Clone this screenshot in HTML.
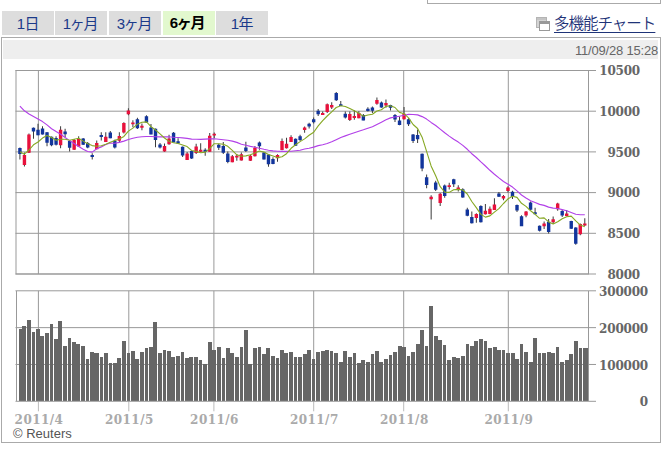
<!DOCTYPE html>
<html lang="ja"><head><meta charset="utf-8"><title>chart</title>
<style>
html,body{margin:0;padding:0;background:#fff;}
body{width:667px;height:455px;position:relative;overflow:hidden;font-family:"Liberation Sans","Noto Sans CJK JP",sans-serif;}
.topbox{position:absolute;left:427px;top:-11px;width:232px;height:13px;border:1px solid #aaa;background:#fff;}
.tabs{position:absolute;left:2px;top:11px;height:25px;}
.tab{position:absolute;top:0;width:51.6px;height:24.4px;line-height:25.4px;text-align:center;background:#ddd;color:#1b3a8a;font-size:15px;letter-spacing:-0.5px;}
.tab.t3{letter-spacing:-1.2px;text-indent:-1.6px;}
.tab.on{background:#e2f8ce;color:#000;font-weight:bold;line-height:23.4px;text-indent:-3.6px;}
.link{position:absolute;left:554px;top:14px;font-size:15.5px;line-height:20px;letter-spacing:-1px;font-weight:350;color:#1f3478;text-decoration:underline;text-underline-offset:2.5px;text-decoration-thickness:1px;white-space:nowrap;}
.box{position:absolute;left:1px;top:37px;width:658px;height:404px;border:1px solid #aaa;background:#fff;}
.bar{position:absolute;left:3px;top:40px;width:655px;height:19px;background:#eee;}
.ts{position:absolute;right:9px;top:44px;font-size:13px;letter-spacing:-0.2px;line-height:14px;color:#666;}
.cr{position:absolute;left:13px;top:426px;font-size:13px;line-height:15px;color:#555;}
svg{position:absolute;left:0;top:0;}
.ax{font-family:"DejaVu Serif","Liberation Serif",serif;font-weight:bold;font-size:12px;fill:#666;letter-spacing:-0.2px;}
.mo{font-family:"DejaVu Serif","Liberation Serif",serif;font-weight:bold;font-size:12px;fill:#aaa;letter-spacing:0.45px;}
</style></head><body>
<div class="topbox"></div>
<div class="tabs">
<div class="tab" style="left:0">1日</div>
<div class="tab t3" style="left:53px">1ヶ月</div>
<div class="tab t3" style="left:107px">3ヶ月</div>
<div class="tab on t3" style="left:161px">6ヶ月</div>
<div class="tab" style="left:214px">1年</div>
</div>
<svg style="left:536px;top:17px" width="14" height="15" viewBox="0 0 14 15"><rect x="0.5" y="0.5" width="10" height="10" fill="#d4d4d4" stroke="#b4b4b4"/><rect x="1" y="1" width="9" height="2" fill="#c4c4c4"/><rect x="3.5" y="4.5" width="10" height="9" fill="#fff" stroke="#999"/><rect x="3" y="4" width="11" height="3" fill="#999"/></svg>
<a class="link">多機能チャート</a>
<div class="box"></div>
<div class="bar"></div>
<div class="ts">11/09/28 15:28</div>
<svg width="667" height="455" viewBox="0 0 667 455" shape-rendering="crispEdges">
<rect x="16.0" y="70.5" width="572.5" height="203.5" fill="#fff" stroke="#999" stroke-width="1" shape-rendering="geometricPrecision"/>
<line x1="15.5" y1="70.50" x2="596" y2="70.50" stroke="#999" shape-rendering="geometricPrecision"/>
<line x1="15.5" y1="111.20" x2="596" y2="111.20" stroke="#999" shape-rendering="geometricPrecision"/>
<line x1="15.5" y1="151.90" x2="596" y2="151.90" stroke="#999" shape-rendering="geometricPrecision"/>
<line x1="15.5" y1="192.60" x2="596" y2="192.60" stroke="#999" shape-rendering="geometricPrecision"/>
<line x1="15.5" y1="233.30" x2="596" y2="233.30" stroke="#999" shape-rendering="geometricPrecision"/>
<line x1="15.5" y1="274.00" x2="596" y2="274.00" stroke="#999" shape-rendering="geometricPrecision"/>
<line x1="38.4" y1="70.5" x2="38.4" y2="274.0" stroke="#999" shape-rendering="geometricPrecision"/>
<line x1="38.4" y1="290.8" x2="38.4" y2="401.3" stroke="#999" shape-rendering="geometricPrecision"/>
<line x1="38.4" y1="401.3" x2="38.4" y2="411.3" stroke="#bbb" shape-rendering="geometricPrecision"/>
<line x1="128.8" y1="70.5" x2="128.8" y2="274.0" stroke="#999" shape-rendering="geometricPrecision"/>
<line x1="128.8" y1="290.8" x2="128.8" y2="401.3" stroke="#999" shape-rendering="geometricPrecision"/>
<line x1="128.8" y1="401.3" x2="128.8" y2="411.3" stroke="#bbb" shape-rendering="geometricPrecision"/>
<line x1="213.9" y1="70.5" x2="213.9" y2="274.0" stroke="#999" shape-rendering="geometricPrecision"/>
<line x1="213.9" y1="290.8" x2="213.9" y2="401.3" stroke="#999" shape-rendering="geometricPrecision"/>
<line x1="213.9" y1="401.3" x2="213.9" y2="411.3" stroke="#bbb" shape-rendering="geometricPrecision"/>
<line x1="313.7" y1="70.5" x2="313.7" y2="274.0" stroke="#999" shape-rendering="geometricPrecision"/>
<line x1="313.7" y1="290.8" x2="313.7" y2="401.3" stroke="#999" shape-rendering="geometricPrecision"/>
<line x1="313.7" y1="401.3" x2="313.7" y2="411.3" stroke="#bbb" shape-rendering="geometricPrecision"/>
<line x1="403.7" y1="70.5" x2="403.7" y2="274.0" stroke="#999" shape-rendering="geometricPrecision"/>
<line x1="403.7" y1="290.8" x2="403.7" y2="401.3" stroke="#999" shape-rendering="geometricPrecision"/>
<line x1="403.7" y1="401.3" x2="403.7" y2="411.3" stroke="#bbb" shape-rendering="geometricPrecision"/>
<line x1="508.3" y1="70.5" x2="508.3" y2="274.0" stroke="#999" shape-rendering="geometricPrecision"/>
<line x1="508.3" y1="290.8" x2="508.3" y2="401.3" stroke="#999" shape-rendering="geometricPrecision"/>
<line x1="508.3" y1="401.3" x2="508.3" y2="411.3" stroke="#bbb" shape-rendering="geometricPrecision"/>
<line x1="16.0" y1="290.8" x2="16.0" y2="401.3" stroke="#999"/>
<line x1="588.5" y1="290.8" x2="588.5" y2="401.3" stroke="#999"/>
<line x1="15.5" y1="290.80" x2="596" y2="290.80" stroke="#999" shape-rendering="geometricPrecision"/>
<line x1="15.5" y1="327.63" x2="596" y2="327.63" stroke="#999" shape-rendering="geometricPrecision"/>
<line x1="15.5" y1="364.47" x2="596" y2="364.47" stroke="#999" shape-rendering="geometricPrecision"/>
<path d="M19 401.3V329H22V401.3zM22 401.3V326H26V401.3zM27 401.3V320H31V401.3zM32 401.3V332H35V401.3zM36 401.3V329H40V401.3zM40 401.3V336H44V401.3zM45 401.3V333H49V401.3zM50 401.3V324H53V401.3zM54 401.3V339H58V401.3zM58 401.3V321H62V401.3zM63 401.3V346H67V401.3zM68 401.3V338H71V401.3zM72 401.3V342H76V401.3zM76 401.3V344H80V401.3zM81 401.3V346H85V401.3zM86 401.3V359H89V401.3zM90 401.3V352H94V401.3zM94 401.3V353H99V401.3zM100 401.3V357H103V401.3zM104 401.3V353H108V401.3zM109 401.3V363H112V401.3zM113 401.3V363H117V401.3zM117 401.3V358H121V401.3zM122 401.3V341H126V401.3zM127 401.3V353H130V401.3zM131 401.3V351H135V401.3zM135 401.3V359H139V401.3zM140 401.3V352H144V401.3zM145 401.3V348H148V401.3zM149 401.3V347H153V401.3zM153 401.3V322H157V401.3zM158 401.3V353H162V401.3zM163 401.3V350H166V401.3zM167 401.3V351H171V401.3zM171 401.3V357H175V401.3zM176 401.3V356H180V401.3zM181 401.3V352H184V401.3zM185 401.3V358H189V401.3zM189 401.3V357H193V401.3zM194 401.3V357H198V401.3zM199 401.3V360H202V401.3zM203 401.3V364H207V401.3zM208 401.3V342H212V401.3zM212 401.3V350H216V401.3zM217 401.3V347H221V401.3zM222 401.3V358H225V401.3zM226 401.3V348H230V401.3zM230 401.3V353H234V401.3zM235 401.3V357H239V401.3zM240 401.3V347H243V401.3zM244 401.3V330H248V401.3zM248 401.3V364H252V401.3zM253 401.3V348H257V401.3zM258 401.3V347H261V401.3zM262 401.3V354H266V401.3zM266 401.3V348H270V401.3zM271 401.3V356H275V401.3zM276 401.3V358H279V401.3zM280 401.3V350H284V401.3zM284 401.3V353H288V401.3zM289 401.3V352H293V401.3zM294 401.3V357H297V401.3zM298 401.3V357H302V401.3zM303 401.3V354H307V401.3zM307 401.3V350H311V401.3zM312 401.3V359H315V401.3zM316 401.3V352H320V401.3zM321 401.3V351H325V401.3zM325 401.3V350H329V401.3zM330 401.3V351H333V401.3zM334 401.3V353H338V401.3zM339 401.3V362H343V401.3zM343 401.3V351H347V401.3zM348 401.3V357H352V401.3zM353 401.3V353H356V401.3zM357 401.3V363H361V401.3zM361 401.3V360H365V401.3zM366 401.3V362H370V401.3zM371 401.3V354H374V401.3zM375 401.3V351H379V401.3zM379 401.3V362H383V401.3zM384 401.3V359H388V401.3zM389 401.3V355H392V401.3zM393 401.3V352H397V401.3zM398 401.3V346H402V401.3zM402 401.3V347H406V401.3zM407 401.3V356H410V401.3zM411 401.3V352H415V401.3zM416 401.3V344H420V401.3zM420 401.3V330H424V401.3zM425 401.3V346H428V401.3zM429 401.3V306H433V401.3zM434 401.3V336H438V401.3zM438 401.3V340H442V401.3zM443 401.3V345H446V401.3zM447 401.3V360H451V401.3zM452 401.3V357H456V401.3zM456 401.3V358H460V401.3zM461 401.3V356H465V401.3zM466 401.3V344H469V401.3zM470 401.3V346H474V401.3zM474 401.3V341H478V401.3zM479 401.3V339H483V401.3zM484 401.3V341H487V401.3zM488 401.3V348H492V401.3zM493 401.3V347H497V401.3zM497 401.3V350H501V401.3zM502 401.3V350H505V401.3zM506 401.3V353H510V401.3zM511 401.3V353H515V401.3zM515 401.3V359H519V401.3zM520 401.3V344H523V401.3zM524 401.3V352H528V401.3zM529 401.3V362H533V401.3zM533 401.3V338H537V401.3zM538 401.3V353H541V401.3zM542 401.3V353H546V401.3zM547 401.3V352H551V401.3zM551 401.3V353H555V401.3zM556 401.3V347H559V401.3zM560 401.3V362H564V401.3zM565 401.3V360H569V401.3zM569 401.3V354H573V401.3zM574 401.3V341H578V401.3zM579 401.3V348H582V401.3zM583 401.3V348H588V401.3z" fill="#666"/>
<line x1="15.5" y1="401.3" x2="596" y2="401.3" stroke="#999" shape-rendering="geometricPrecision"/>
<path d="M19.42 147.5h1V159.5h-1zM23.94 152.6h1V166.5h-1zM28.46 133.5h1V153.0h-1zM32.98 127.4h1V138.8h-1zM37.50 123.7h1V135.2h-1zM42.02 126.2h1V134.5h-1zM46.53 132.0h1V146.3h-1zM51.05 136.5h1V146.3h-1zM55.57 136.3h1V145.5h-1zM60.09 126.2h1V148.2h-1zM64.61 128.7h1V136.9h-1zM69.13 140.5h1V151.4h-1zM73.65 139.0h1V150.0h-1zM78.17 136.3h1V147.0h-1zM82.69 138.0h1V145.0h-1zM87.20 142.0h1V148.2h-1zM91.72 153.3h1V159.6h-1zM96.24 140.4h1V149.3h-1zM100.76 132.2h1V140.4h-1zM105.28 132.2h1V142.0h-1zM109.80 131.0h1V138.2h-1zM114.32 139.8h1V148.6h-1zM118.84 132.2h1V142.3h-1zM123.36 122.3h1V133.5h-1zM127.88 108.3h1V115.2h-1zM132.40 120.3h1V127.2h-1zM136.91 117.7h1V129.0h-1zM141.43 123.4h1V130.3h-1zM145.95 115.2h1V122.8h-1zM150.47 124.0h1V134.3h-1zM154.99 128.5h1V147.3h-1zM159.51 142.9h1V148.6h-1zM164.03 143.6h1V151.7h-1zM168.55 134.8h1V144.8h-1zM173.07 131.9h1V142.1h-1zM177.58 138.2h1V143.5h-1zM182.10 146.5h1V157.0h-1zM186.62 152.0h1V160.0h-1zM191.14 151.0h1V158.9h-1zM195.66 143.8h1V153.9h-1zM200.18 143.2h1V152.0h-1zM204.70 148.2h1V155.8h-1zM209.22 133.1h1V151.8h-1zM213.74 132.5h1V138.2h-1zM218.26 143.8h1V150.1h-1zM222.78 141.9h1V153.9h-1zM227.29 151.4h1V163.3h-1zM231.81 155.0h1V162.3h-1zM236.33 153.9h1V160.8h-1zM240.85 152.6h1V160.6h-1zM245.37 141.7h1V152.0h-1zM249.89 154.8h1V161.0h-1zM254.41 146.0h1V156.5h-1zM258.93 141.6h1V149.8h-1zM263.45 152.3h1V159.6h-1zM267.97 154.2h1V166.8h-1zM272.48 157.3h1V164.2h-1zM277.00 154.2h1V161.7h-1zM281.52 138.4h1V150.3h-1zM286.04 137.8h1V148.4h-1zM290.56 135.3h1V142.0h-1zM295.08 138.5h1V146.0h-1zM299.60 134.7h1V141.0h-1zM304.12 126.5h1V132.8h-1zM308.64 122.7h1V128.4h-1zM313.16 117.6h1V123.5h-1zM317.67 109.0h1V116.0h-1zM322.19 111.6h1V115.0h-1zM326.71 103.5h1V112.9h-1zM331.23 102.2h1V109.0h-1zM335.75 92.0h1V100.9h-1zM340.27 100.9h1V105.9h-1zM344.79 111.6h1V118.5h-1zM349.31 111.6h1V121.0h-1zM353.83 110.3h1V119.8h-1zM358.35 111.2h1V118.3h-1zM362.86 114.1h1V120.3h-1zM367.38 107.2h1V111.6h-1zM371.90 106.6h1V112.9h-1zM376.42 97.4h1V104.7h-1zM380.94 101.5h1V107.8h-1zM385.46 99.6h1V107.8h-1zM389.98 104.7h1V110.5h-1zM394.50 113.9h1V122.0h-1zM399.02 116.4h1V125.2h-1zM403.54 107.0h1V119.6h-1zM408.05 118.3h1V125.9h-1zM412.57 134.0h1V142.9h-1zM417.09 129.6h1V142.9h-1zM421.61 153.5h1V171.2h-1zM426.13 174.5h1V188.3h-1zM430.65 195.3h1V219.5h-1zM435.17 180.8h1V190.9h-1zM439.69 193.0h1V206.0h-1zM444.21 184.6h1V197.8h-1zM448.73 182.7h1V189.6h-1zM453.24 178.8h1V187.0h-1zM457.76 185.2h1V191.5h-1zM462.28 188.3h1V197.8h-1zM466.80 207.8h1V216.3h-1zM471.32 211.5h1V223.5h-1zM475.84 213.3h1V222.8h-1zM480.36 205.2h1V222.5h-1zM484.88 203.9h1V214.5h-1zM489.40 206.5h1V214.2h-1zM493.92 198.3h1V210.0h-1zM498.43 192.0h1V197.0h-1zM502.95 195.0h1V200.2h-1zM507.47 186.3h1V192.6h-1zM511.99 190.7h1V198.9h-1zM516.51 204.5h1V212.1h-1zM521.03 215.3h1V226.0h-1zM525.55 210.9h1V217.2h-1zM530.07 201.4h1V209.9h-1zM534.59 207.8h1V214.0h-1zM539.11 225.5h1V231.6h-1zM543.62 221.5h1V229.0h-1zM548.14 219.0h1V233.4h-1zM552.66 216.4h1V224.0h-1zM557.18 202.8h1V210.7h-1zM561.70 210.1h1V217.0h-1zM566.22 210.1h1V216.3h-1zM570.74 220.8h1V229.0h-1zM575.26 227.2h1V244.7h-1zM579.78 223.5h1V235.3h-1zM584.29 218.3h1V225.9h-1z" fill="#3a3a3a" shape-rendering="geometricPrecision"/>
<path d="M22.74 154.9h3.4V164.9h-3.4zM27.26 134.6h3.4V152.8h-3.4zM58.89 129.8h3.4V145.3h-3.4zM72.45 140.1h3.4V149.8h-3.4zM76.97 139.1h3.4V146.6h-3.4zM95.04 142.9h3.4V149.2h-3.4zM104.08 136.8h3.4V142.0h-3.4zM117.64 136.0h3.4V140.7h-3.4zM122.16 123.1h3.4V132.5h-3.4zM126.68 110.6h3.4V114.3h-3.4zM131.20 122.4h3.4V124.2h-3.4zM140.23 125.7h3.4V127.7h-3.4zM162.83 146.1h3.4V151.4h-3.4zM167.35 138.4h3.4V144.3h-3.4zM185.42 153.5h3.4V159.9h-3.4zM194.46 146.5h3.4V152.9h-3.4zM198.98 149.8h3.4V151.7h-3.4zM208.02 135.8h3.4V151.7h-3.4zM212.54 133.7h3.4V135.5h-3.4zM230.61 156.2h3.4V162.3h-3.4zM235.13 155.7h3.4V157.5h-3.4zM239.65 154.3h3.4V160.5h-3.4zM248.69 155.8h3.4V160.8h-3.4zM253.21 147.7h3.4V156.3h-3.4zM275.80 154.9h3.4V158.3h-3.4zM280.32 141.1h3.4V150.1h-3.4zM284.84 143.7h3.4V148.2h-3.4zM289.36 137.1h3.4V141.9h-3.4zM302.92 127.4h3.4V130.1h-3.4zM320.99 113.1h3.4V114.9h-3.4zM325.51 104.2h3.4V111.9h-3.4zM330.03 105.1h3.4V107.5h-3.4zM348.11 113.9h3.4V120.1h-3.4zM352.63 116.1h3.4V117.9h-3.4zM357.15 113.0h3.4V118.2h-3.4zM375.22 100.1h3.4V103.7h-3.4zM384.26 102.9h3.4V105.6h-3.4zM402.34 113.7h3.4V119.2h-3.4zM429.45 196.8h3.4V199.3h-3.4zM438.49 193.8h3.4V203.1h-3.4zM447.53 185.3h3.4V187.1h-3.4zM456.56 187.6h3.4V189.4h-3.4zM474.64 214.0h3.4V218.1h-3.4zM483.68 210.8h3.4V214.3h-3.4zM488.20 208.8h3.4V214.1h-3.4zM492.72 204.4h3.4V209.9h-3.4zM501.75 195.9h3.4V198.6h-3.4zM506.27 187.4h3.4V191.0h-3.4zM524.35 211.6h3.4V215.6h-3.4zM542.42 223.5h3.4V226.3h-3.4zM551.46 219.3h3.4V222.3h-3.4zM555.98 203.4h3.4V209.2h-3.4zM565.02 213.4h3.4V216.1h-3.4zM578.58 224.1h3.4V234.3h-3.4zM583.09 223.6h3.4V225.5h-3.4z" fill="#e8113c" shape-rendering="geometricPrecision"/>
<path d="M18.22 147.9h3.4V153.9h-3.4zM31.78 127.7h3.4V131.4h-3.4zM36.30 129.7h3.4V135.2h-3.4zM40.81 128.4h3.4V134.4h-3.4zM45.33 132.2h3.4V142.8h-3.4zM49.85 136.7h3.4V145.3h-3.4zM54.37 137.9h3.4V144.8h-3.4zM63.41 131.6h3.4V134.3h-3.4zM67.93 141.0h3.4V147.7h-3.4zM81.49 138.5h3.4V144.8h-3.4zM86.00 142.9h3.4V147.6h-3.4zM90.52 154.9h3.4V157.0h-3.4zM99.56 135.1h3.4V137.1h-3.4zM108.60 132.6h3.4V138.2h-3.4zM113.12 140.7h3.4V147.4h-3.4zM135.71 119.3h3.4V128.2h-3.4zM144.75 116.2h3.4V122.5h-3.4zM149.27 127.5h3.4V134.6h-3.4zM153.79 128.7h3.4V140.1h-3.4zM158.31 144.5h3.4V147.5h-3.4zM171.87 132.8h3.4V142.4h-3.4zM176.38 141.2h3.4V143.5h-3.4zM180.90 146.7h3.4V155.4h-3.4zM189.94 151.1h3.4V158.5h-3.4zM203.50 149.7h3.4V151.8h-3.4zM217.06 144.7h3.4V147.7h-3.4zM221.58 146.0h3.4V152.8h-3.4zM226.09 153.6h3.4V161.9h-3.4zM244.17 147.5h3.4V151.0h-3.4zM257.73 142.6h3.4V146.2h-3.4zM262.25 152.6h3.4V159.4h-3.4zM266.77 154.5h3.4V164.3h-3.4zM271.28 158.9h3.4V164.1h-3.4zM293.88 138.8h3.4V145.8h-3.4zM298.40 136.3h3.4V140.1h-3.4zM307.44 123.7h3.4V126.5h-3.4zM311.96 119.3h3.4V122.2h-3.4zM316.47 110.7h3.4V114.3h-3.4zM334.55 93.0h3.4V100.3h-3.4zM339.07 104.2h3.4V106.0h-3.4zM343.59 113.8h3.4V117.5h-3.4zM361.66 115.1h3.4V120.5h-3.4zM366.18 108.8h3.4V111.0h-3.4zM370.70 107.5h3.4V110.7h-3.4zM379.74 102.5h3.4V107.4h-3.4zM388.78 105.0h3.4V107.7h-3.4zM393.30 114.9h3.4V119.5h-3.4zM397.82 120.5h3.4V125.1h-3.4zM406.85 119.3h3.4V124.2h-3.4zM411.37 134.4h3.4V141.0h-3.4zM415.89 135.0h3.4V139.2h-3.4zM420.41 153.7h3.4V168.5h-3.4zM424.93 177.3h3.4V185.0h-3.4zM433.97 182.4h3.4V189.7h-3.4zM443.01 185.5h3.4V195.9h-3.4zM452.04 179.2h3.4V184.2h-3.4zM461.08 189.3h3.4V197.5h-3.4zM465.60 209.4h3.4V215.8h-3.4zM470.12 216.9h3.4V223.2h-3.4zM479.16 206.1h3.4V222.2h-3.4zM497.23 193.6h3.4V196.7h-3.4zM510.79 191.7h3.4V196.9h-3.4zM515.31 204.9h3.4V210.4h-3.4zM519.83 216.2h3.4V226.2h-3.4zM528.87 202.6h3.4V209.7h-3.4zM533.39 212.2h3.4V214.3h-3.4zM537.90 225.7h3.4V230.7h-3.4zM546.94 221.7h3.4V232.1h-3.4zM560.50 211.1h3.4V215.6h-3.4zM569.54 221.1h3.4V228.7h-3.4zM574.06 227.4h3.4V243.8h-3.4z" fill="#12359c" shape-rendering="geometricPrecision"/>
<polyline points="19.9,106.2 24.4,110.8 29.0,113.9 33.5,116.5 38.0,119.0 42.5,121.6 47.0,124.9 51.6,128.7 56.1,131.6 60.6,134.3 65.1,137.5 69.6,140.6 74.1,143.4 78.7,146.5 83.2,149.2 87.7,151.5 92.2,152.1 96.7,148.8 101.3,146.9 105.8,144.5 110.3,143.0 114.8,143.2 119.3,142.4 123.9,141.1 128.4,139.5 132.9,138.3 137.4,137.2 141.9,136.8 146.5,136.5 151.0,136.5 155.5,136.7 160.0,136.9 164.5,136.9 169.0,136.7 173.6,137.2 178.1,137.5 182.6,137.9 187.1,138.4 191.6,139.1 196.2,139.2 200.7,139.4 205.2,139.1 209.7,138.9 214.2,138.7 218.8,139.2 223.3,139.7 227.8,140.3 232.3,141.1 236.8,142.4 241.4,144.2 245.9,145.3 250.4,146.4 254.9,147.3 259.4,148.3 263.9,149.3 268.5,150.2 273.0,150.9 277.5,151.2 282.0,151.4 286.5,151.4 291.1,151.2 295.6,150.8 300.1,150.3 304.6,149.0 309.1,148.2 313.7,147.1 318.2,145.6 322.7,144.7 327.2,143.5 331.7,141.8 336.2,139.7 340.8,137.5 345.3,135.9 349.8,134.2 354.3,132.7 358.8,131.2 363.4,129.8 367.9,128.3 372.4,126.8 376.9,124.5 381.4,122.2 386.0,119.8 390.5,117.9 395.0,117.0 399.5,116.2 404.0,115.3 408.6,114.4 413.1,114.5 417.6,114.9 422.1,116.6 426.6,119.1 431.1,122.4 435.7,125.5 440.2,129.1 444.7,132.7 449.2,136.1 453.7,139.2 458.3,142.1 462.8,145.4 467.3,149.3 471.8,153.7 476.3,157.5 480.9,161.9 485.4,166.0 489.9,170.3 494.4,174.2 498.9,177.9 503.5,181.5 508.0,184.2 512.5,187.1 517.0,190.9 521.5,195.0 526.0,197.9 530.6,200.7 535.1,202.5 539.6,204.4 544.1,205.4 548.6,207.1 553.2,208.1 557.7,208.5 562.2,209.6 566.7,210.8 571.2,212.5 575.8,214.3 580.3,214.7 584.8,214.7" fill="none" stroke="#b240e8" stroke-width="1.15" stroke-linejoin="round" shape-rendering="geometricPrecision"/>
<polyline points="19.9,151.8 24.4,154.2 29.0,150.0 33.5,144.8 38.0,142.0 42.5,138.1 47.0,135.5 51.6,137.5 56.1,140.2 60.6,139.2 65.1,139.2 69.6,140.2 74.1,139.3 78.7,138.3 83.2,141.1 87.7,143.8 92.2,145.6 96.7,146.2 101.3,145.7 105.8,144.2 110.3,142.3 114.8,140.4 119.3,139.0 123.9,136.4 128.4,131.1 132.9,128.1 137.4,124.2 141.9,122.2 146.5,121.9 151.0,126.6 155.5,130.0 160.0,133.9 164.5,138.0 169.0,141.3 173.6,142.8 178.1,143.5 182.6,145.1 187.1,146.6 191.6,150.5 196.2,151.4 200.7,152.8 205.2,152.1 209.7,148.6 214.2,143.7 218.8,143.8 223.3,144.3 227.8,146.3 232.3,150.4 236.8,154.8 241.4,156.3 245.9,155.9 250.4,154.8 254.9,153.1 259.4,151.1 263.9,152.0 268.5,154.6 273.0,156.1 277.5,157.6 282.0,156.7 286.5,153.7 291.1,148.3 295.6,144.7 300.1,141.6 304.6,138.9 309.1,135.3 313.7,132.2 318.2,125.9 322.7,120.7 327.2,116.0 331.7,111.9 336.2,107.5 340.8,105.8 345.3,106.5 349.8,108.5 354.3,110.7 358.8,113.3 363.4,116.3 367.9,115.0 372.4,114.2 376.9,111.0 381.4,109.8 386.0,106.4 390.5,105.7 395.0,107.5 399.5,112.4 404.0,113.7 408.6,117.9 413.1,124.5 417.6,128.5 422.1,137.2 426.6,151.3 431.1,165.9 435.7,175.7 440.2,186.7 444.7,192.2 449.2,192.4 453.7,189.7 458.3,189.4 462.8,190.0 467.3,194.0 471.8,201.5 476.3,207.6 480.9,214.4 485.4,217.1 489.9,215.9 494.4,212.2 498.9,208.6 503.5,203.5 508.0,198.8 512.5,196.3 517.0,197.4 521.5,203.3 526.0,206.4 530.6,210.8 535.1,214.3 539.6,218.3 544.1,217.9 548.6,221.9 553.2,223.9 557.7,221.8 562.2,218.8 566.7,216.8 571.2,216.1 575.8,220.9 580.3,225.1 584.8,226.8" fill="none" stroke="#86a823" stroke-width="1.1" stroke-linejoin="round" shape-rendering="geometricPrecision"/>
<text x="640" y="75.3" text-anchor="end" class="ax">10500</text>
<text x="640" y="116.0" text-anchor="end" class="ax">10000</text>
<text x="640" y="156.7" text-anchor="end" class="ax">9500</text>
<text x="640" y="197.4" text-anchor="end" class="ax">9000</text>
<text x="640" y="238.1" text-anchor="end" class="ax">8500</text>
<text x="640" y="278.8" text-anchor="end" class="ax">8000</text>
<text x="648" y="295.8" text-anchor="end" class="ax">300000</text>
<text x="648" y="332.6" text-anchor="end" class="ax">200000</text>
<text x="648" y="369.5" text-anchor="end" class="ax">100000</text>
<text x="648" y="406.3" text-anchor="end" class="ax">0</text>
<text x="39.0" y="424" text-anchor="middle" class="mo">2011/4</text>
<text x="129.4" y="424" text-anchor="middle" class="mo">2011/5</text>
<text x="214.5" y="424" text-anchor="middle" class="mo">2011/6</text>
<text x="314.3" y="424" text-anchor="middle" class="mo">2011/7</text>
<text x="404.3" y="424" text-anchor="middle" class="mo">2011/8</text>
<text x="508.9" y="424" text-anchor="middle" class="mo">2011/9</text>
</svg>
<div class="cr">© Reuters</div>
</body></html>
